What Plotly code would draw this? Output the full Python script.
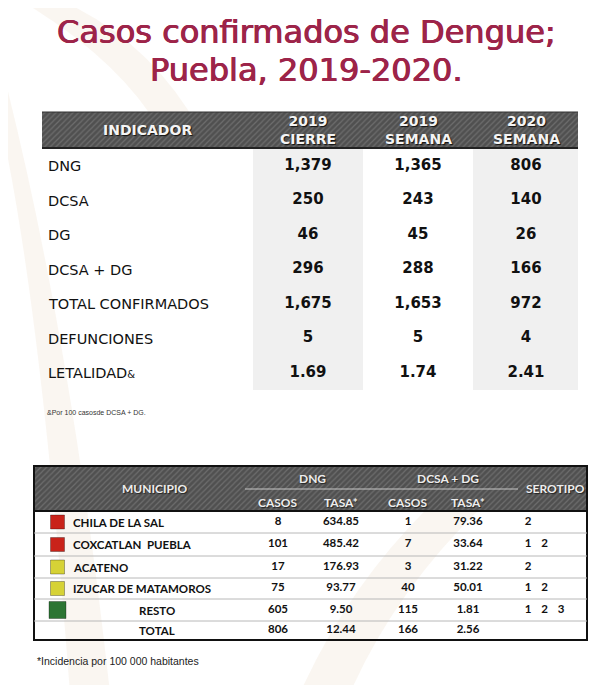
import plotly.graph_objects as go

W, H = 616, 693
PAGE_MARGIN = 8  # default body margin of the html page

# ---------------- data ----------------
title_lines = ["Casos confirmados de Dengue;", "Puebla, 2019-2020."]

indicadores = ["DNG", "DCSA", "DG", "DCSA + DG", "TOTAL CONFIRMADOS", "DEFUNCIONES", "LETALIDAD"]
t1_headers = ["2019<br>CIERRE", "2019<br>SEMANA", "2020<br>SEMANA"]
cierre_2019 = [1379, 250, 46, 296, 1675, 5, 1.69]
semana_2019 = [1365, 243, 45, 288, 1653, 5, 1.74]
semana_2020 = [806, 140, 26, 166, 972, 4, 2.41]
nota_1 = "&Por 100 casosde DCSA + DG."

municipios = ["CHILA DE LA SAL", "COXCATLAN  PUEBLA", "ACATENO", "IZUCAR DE MATAMOROS", "RESTO", "TOTAL"]
dng_casos = [8, 101, 17, 75, 605, 806]
dng_tasa = [634.85, 485.42, 176.93, 93.77, 9.50, 12.44]
dcsa_casos = [1, 7, 3, 40, 115, 166]
dcsa_tasa = [79.36, 33.64, 31.22, 50.01, 1.81, 2.56]
serotipos = [[2], [1, 2], [2], [1, 2], [1, 2, 3], []]
riesgo = ["alto", "alto", "medio", "medio", "bajo", None]
nota_2 = "*Incidencia por 100 000 habitantes"

# ---------------- styles / layout constants ----------------
TITLE_COLOR = "#9D2449"
RISK_COLOR = {"alto": "#C9231A", "medio": "#D6D236", "bajo": "#2C7533"}

F_T1 = "DejaVu Sans, Arial, sans-serif"
F_T2 = "Lato, Liberation Sans, sans-serif"

# table 1 geometry
T1_X0, T1_X1 = 42, 578
T1_HY0, T1_HY1 = 112, 148
T1_ROW0, T1_DY = 166, 34.5
T1_COLS = [308, 418, 526]
T1_GRAY = [(253, 363), (473, 578)]
T1_BOTTOM = 390
T1_LABEL_X = 46

# table 2 geometry
T2_X0, T2_X1 = 34, 587
T2_Y0 = 466
T2_LINES = [511, 533, 556, 578, 599, 621, 640]
T2_COLS = [278, 341, 408, 468]
T2_SERO_X0, T2_SERO_DX = 528, 16.5
T2_LABEL_X = 71
T2_CENTER_LABEL_X = 157
T2_SQ_X = 57.5


def fmt(v):
    if isinstance(v, int):
        return f"{v:,}"
    return f"{v:.2f}"


fig = go.Figure()
shapes = []
ann = []

# ---------- faint background watermark ----------
wm = "rgba(236,224,204,0.28)"
shapes.append(dict(type="path", layer="below", fillcolor=wm, line=dict(width=0),
                   path="M 0 120 Q 40 300 70 693 L 110 693 Q 70 330 0 60 Z"))
shapes.append(dict(type="path", layer="below", fillcolor=wm, line=dict(width=0),
                   path="M 20 0 Q 120 60 160 130 L 200 130 Q 150 40 60 0 Z"))
shapes.append(dict(type="path", layer="below", fillcolor=wm, line=dict(width=0),
                   path="M 300 693 Q 360 560 470 470 L 500 490 Q 400 580 350 693 Z"))

# ---------- title ----------
for i, line in enumerate(title_lines):
    ann.append(dict(x=306, y=32 + 38 * i, text=line, showarrow=False,
                    xanchor="center", yanchor="middle",
                    font=dict(family="DejaVu Sans, sans-serif", size=32, weight=500,
                              color=TITLE_COLOR,
                              shadow="0.6px 0 0 #9D2449, -0.4px 0 0 #9D2449")))

# ---------- table 1 ----------
for gx0, gx1 in T1_GRAY:
    shapes.append(dict(type="rect", x0=gx0, x1=gx1, y0=T1_HY1, y1=T1_BOTTOM,
                       fillcolor="#F0F0F0", line=dict(width=0), layer="below"))

# hatched headers (bars with pattern)
fig.add_trace(go.Bar(
    orientation="h",
    y=[(T1_HY0 + T1_HY1) / 2, (T2_Y0 + T2_LINES[0]) / 2],
    x=[T1_X1 - T1_X0, T2_X1 - T2_X0],
    base=[T1_X0, T2_X0],
    width=[T1_HY1 - T1_HY0, T2_LINES[0] - T2_Y0],
    marker=dict(color="#505050", line=dict(width=0),
                pattern=dict(shape="/", fgcolor="#8a8a8a", size=4, solidity=0.3)),
    hoverinfo="skip", showlegend=False))

shapes.append(dict(type="line", x0=T1_X0, x1=T1_X1, y0=T1_HY0, y1=T1_HY0,
                   line=dict(color="#333", width=1)))
shapes.append(dict(type="line", x0=T1_X0, x1=T1_X1, y0=T1_HY1, y1=T1_HY1,
                   line=dict(color="#222", width=2)))

hdr_font = dict(family=F_T1, size=14, weight="bold", color="#F4F4F4",
                shadow="1px 1px 1px #111")
ann.append(dict(x=147, y=(T1_HY0 + T1_HY1) / 2, text="INDICADOR", showarrow=False,
                xanchor="center", yanchor="middle", font=hdr_font))
for cx, h in zip(T1_COLS, t1_headers):
    ann.append(dict(x=cx, y=(T1_HY0 + T1_HY1) / 2, text=h, showarrow=False,
                    xanchor="center", yanchor="middle", font=hdr_font))

rows1 = [T1_ROW0 + T1_DY * i for i in range(len(indicadores))]
for i, (lab, y) in enumerate(zip(indicadores, rows1)):
    txt = lab
    if lab == "LETALIDAD":
        txt = lab + "<span style='font-size:10px'>&</span>"
    ann.append(dict(x=T1_LABEL_X, y=y, text=txt, showarrow=False,
                    xanchor="left", yanchor="middle",
                    font=dict(family=F_T1, size=14.5, color="#111")))

for cx, serie in zip(T1_COLS, [cierre_2019, semana_2019, semana_2020]):
    fig.add_trace(go.Scatter(
        x=[cx] * len(serie), y=rows1, mode="text", text=[fmt(v) for v in serie],
        textposition="middle center",
        textfont=dict(family=F_T1, size=15, weight="bold", color="#111"),
        hoverinfo="skip", showlegend=False))

ann.append(dict(x=45, y=412, text=nota_1, showarrow=False, xanchor="left",
                yanchor="middle", font=dict(family="Liberation Sans, Arial", size=7,
                                            color="#333")))

# ---------- table 2 ----------
shapes.append(dict(type="rect", x0=T2_X0, x1=T2_X1, y0=T2_Y0, y1=T2_LINES[-1],
                   line=dict(color="#111", width=2), fillcolor="rgba(0,0,0,0)"))
shapes.append(dict(type="line", x0=T2_X0, x1=T2_X1, y0=T2_LINES[0], y1=T2_LINES[0],
                   line=dict(color="#111", width=2)))
for yl in T2_LINES[1:-1]:
    shapes.append(dict(type="line", x0=T2_X0, x1=T2_X1, y0=yl, y1=yl,
                       line=dict(color="#B8B8B8", width=1)))
shapes.append(dict(type="line", x0=245, x1=518, y0=489, y1=489,
                   line=dict(color="#C8C8C8", width=1)))

h2_font = dict(family=F_T2, size=12, weight="bold", color="#EDEDED",
               shadow="1px 1px 1px #222")
ann.append(dict(x=155, y=488, text="MUNICIPIO", showarrow=False, font=h2_font,
                xanchor="center", yanchor="middle"))
ann.append(dict(x=312, y=478, text="DNG", showarrow=False, font=h2_font,
                xanchor="center", yanchor="middle"))
ann.append(dict(x=448, y=478, text="DCSA + DG", showarrow=False, font=h2_font,
                xanchor="center", yanchor="middle"))
ann.append(dict(x=555, y=488, text="SEROTIPO", showarrow=False, font=h2_font,
                xanchor="center", yanchor="middle"))
for cx, lab in zip(T2_COLS, ["CASOS", "TASA*", "CASOS", "TASA*"]):
    ann.append(dict(x=cx, y=502, text=lab, showarrow=False, font=h2_font,
                    xanchor="center", yanchor="middle"))

rows2 = [(T2_LINES[i] + T2_LINES[i + 1]) / 2 for i in range(len(municipios))]
cell_font = dict(family=F_T2, size=11.5, weight="bold", color="#111")
for i, (m, y) in enumerate(zip(municipios, rows2)):
    if m in ("RESTO", "TOTAL"):
        ann.append(dict(x=T2_CENTER_LABEL_X, y=y, text=m, showarrow=False,
                        xanchor="center", yanchor="middle", font=cell_font))
    else:
        ann.append(dict(x=T2_LABEL_X, y=y, text=m, showarrow=False,
                        xanchor="left", yanchor="middle", font=cell_font))

sq_idx = [i for i, r in enumerate(riesgo) if r]
fig.add_trace(go.Scatter(
    x=[T2_SQ_X] * len(sq_idx), y=[rows2[i] for i in sq_idx], mode="markers",
    marker=dict(symbol="square", opacity=1,
                size=[17 if riesgo[i] == "bajo" else 14 for i in sq_idx],
                color=[RISK_COLOR[riesgo[i]] for i in sq_idx],
                line=dict(color="rgba(0,0,0,0.3)", width=1)),
    hoverinfo="skip", showlegend=False))

for cx, serie, kind in zip(T2_COLS, [dng_casos, dng_tasa, dcsa_casos, dcsa_tasa],
                           ["i", "f", "i", "f"]):
    txt = [str(v) if kind == "i" else f"{v:.2f}" for v in serie]
    fig.add_trace(go.Scatter(
        x=[cx] * len(serie), y=rows2, mode="text", text=txt,
        textposition="middle center", textfont=cell_font,
        hoverinfo="skip", showlegend=False))

sx, sy, st = [], [], []
for y, ss in zip(rows2, serotipos):
    for k, s in enumerate(ss):
        sx.append(T2_SERO_X0 + T2_SERO_DX * k)
        sy.append(y)
        st.append(str(s))
fig.add_trace(go.Scatter(x=sx, y=sy, mode="text", text=st, textposition="middle center",
                         textfont=cell_font, hoverinfo="skip", showlegend=False))

ann.append(dict(x=35, y=661, text=nota_2, showarrow=False, xanchor="left",
                yanchor="middle", font=dict(family="Liberation Sans, Arial", size=10.5,
                                            color="#222")))

# figure sized so that, with the page's 8px body margin, data units == window pixels
FW = W - 2 * PAGE_MARGIN
FH = H - 2 * PAGE_MARGIN
fig.update_layout(
    width=FW, height=FH, margin=dict(l=0, r=0, t=0, b=0),
    paper_bgcolor="white", plot_bgcolor="white",
    xaxis=dict(range=[PAGE_MARGIN, PAGE_MARGIN + FW], visible=False, fixedrange=True),
    yaxis=dict(range=[PAGE_MARGIN + FH, PAGE_MARGIN], visible=False, fixedrange=True),
    shapes=shapes, annotations=ann, bargap=0,
)

fig.write_html("out.html")
